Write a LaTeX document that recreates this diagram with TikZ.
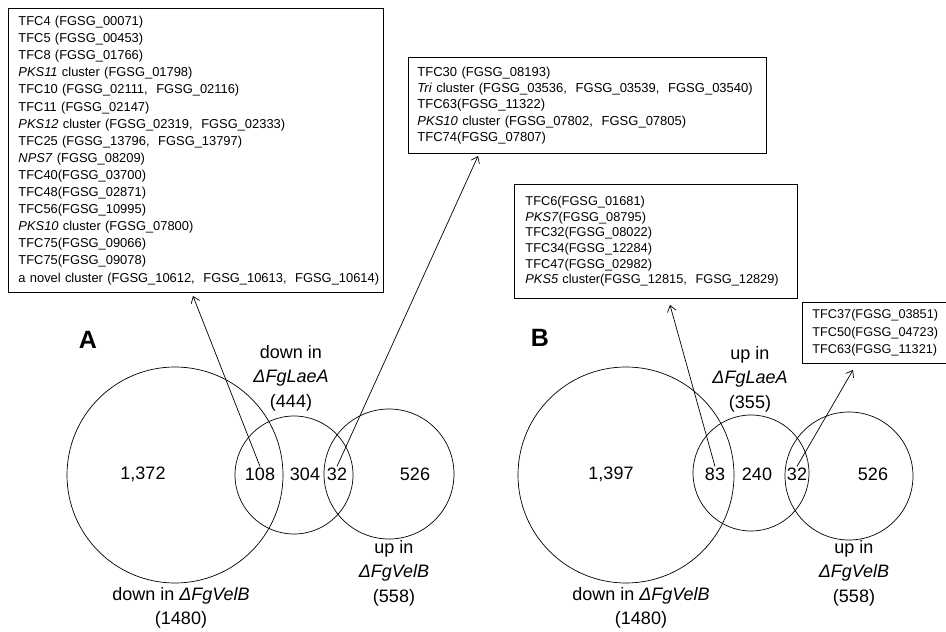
\documentclass[tikz,border=0pt]{standalone}
\usepackage{fontspec}
\setmainfont{Liberation Sans}
\usetikzlibrary{arrows.meta}

\begin{document}
\begin{tikzpicture} [x=1pt, y=-1pt,
		genebox/.style = {draw, line width=0.9pt, anchor=north west, align=left, inner ysep=0pt},
		venn/.style = {draw, circle, line width=0.7pt, inner sep=0pt},
		count/.style = {font=\fontsize{18}{22}\selectfont, inner sep=1pt},
		setlabel/.style = {align=center, inner sep=0pt, font=\fontsize{18}{24.5}\selectfont},
		panel/.style = {font=\fontsize{25}{30}\selectfont\bfseries},
		link/.style = {line width=0.7pt, -{Straight Barb[length=6pt, width=9pt]}}]
	\useasboundingbox (0,0) rectangle (946,632);

	\node [genebox, text width=355pt, inner xsep=10pt, minimum height=284pt,
		font=\fontsize{12.9}{17.1}\selectfont] (listA1) at (8,8) {
		TFC4 (FGSG\_00071)\\
		TFC5 (FGSG\_00453)\\
		TFC8 (FGSG\_01766)\\
		\textit{PKS11} cluster (FGSG\_01798)\\
		TFC10 (FGSG\_02111,~~FGSG\_02116)\\
		TFC11 (FGSG\_02147)\\
		\textit{PKS12} cluster (FGSG\_02319,~~FGSG\_02333)\\
		TFC25 (FGSG\_13796,~~FGSG\_13797)\\
		\textit{NPS7} (FGSG\_08209)\\
		TFC40(FGSG\_03700)\\
		TFC48(FGSG\_02871)\\
		TFC56(FGSG\_10995)\\
		\textit{PKS10} cluster (FGSG\_07800)\\
		TFC75(FGSG\_09066)\\
		TFC75(FGSG\_09078)\\
		a~novel~cluster~(FGSG\_10612,~~FGSG\_10613,~~FGSG\_10614)};
	\node [genebox, text width=340pt, inner xsep=9pt, minimum height=96pt,
		font=\fontsize{13}{16.3}\selectfont] (listA2) at (408,57) {
		TFC30 (FGSG\_08193)\\
		\textit{Tri} cluster (FGSG\_03536,~~FGSG\_03539,~~FGSG\_03540)\\
		TFC63(FGSG\_11322)\\
		\textit{PKS10} cluster (FGSG\_07802,~~FGSG\_07805)\\
		TFC74(FGSG\_07807)};
	\node [genebox, text width=261pt, inner xsep=11pt, minimum height=114pt,
		font=\fontsize{12.8}{15.6}\selectfont] (listB1) at (514,184) {
		TFC6(FGSG\_01681)\\
		\textit{PKS7}(FGSG\_08795)\\
		TFC32(FGSG\_08022)\\
		TFC34(FGSG\_12284)\\
		TFC47(FGSG\_02982)\\
		\textit{PKS5} cluster(FGSG\_12815,~~FGSG\_12829)};
	\node [genebox, text width=126pt, inner xsep=10pt, minimum height=61pt,
		font=\fontsize{12.7}{17.5}\selectfont] (listB2) at (802,302) {
		TFC37(FGSG\_03851)\\
		TFC50(FGSG\_04723)\\
		TFC63(FGSG\_11321)};

	% panel A
	\node [panel] (panelA) at (88,340) {A};
	\node [venn, minimum size=216pt] (velbA) at (175,475) {};
	\node [venn, minimum size=118pt] (laeaA) at (294,475) {};
	\node [venn, minimum size=130pt] (velbupA) at (389,474) {};
	\node [count] (n1372) at (143,474) {1,372};
	\node [count] (n108) at (260,474) {108};
	\node [count] (n304) at (305,474) {304};
	\node [count] (n32A) at (337,474) {32};
	\node [count] (n526A) at (415,474) {526};
	\node [setlabel] (labLaeA) at (291,378) {down in\\\textit{ΔFgLaeA}\\(444)};
	\node [setlabel] (labUpA) at (394,573) {up in\\\textit{ΔFgVelB}\\(558)};
	\node [setlabel] (labDownA) at (181,608) {down in \textit{ΔFgVelB}\\(1480)};

	% panel B
	\node [panel] (panelB) at (540,338) {B};
	\node [venn, minimum size=216pt] (velbB) at (626,475) {};
	\node [venn, minimum size=116pt] (laeaB) at (751,473) {};
	\node [venn, minimum size=128pt] (velbupB) at (849,476) {};
	\node [count] (n1397) at (611,474) {1,397};
	\node [count] (n83) at (715,474) {83};
	\node [count] (n240) at (757,474) {240};
	\node [count] (n32B) at (797,474) {32};
	\node [count] (n526B) at (873,474) {526};
	\node [setlabel] (labLaeB) at (750,379) {up in\\\textit{ΔFgLaeA}\\(355)};
	\node [setlabel] (labUpB) at (854,573) {up in\\\textit{ΔFgVelB}\\(558)};
	\node [setlabel] (labDownB) at (641,608) {down in \textit{ΔFgVelB}\\(1480)};

	\coordinate (tipA1) at (193,296);
	\coordinate (tipA2) at (478,156);
	\coordinate (tipB1) at (670,305);
	\coordinate (tipB2) at (853,370);
	\draw [link] (n108.north) -- (tipA1);
	\draw [link] (n32A.north) -- (tipA2);
	\draw [link] (n83.north) -- (tipB1);
	\draw [link] (n32B.north) -- (tipB2);
\end{tikzpicture}
\end{document}
